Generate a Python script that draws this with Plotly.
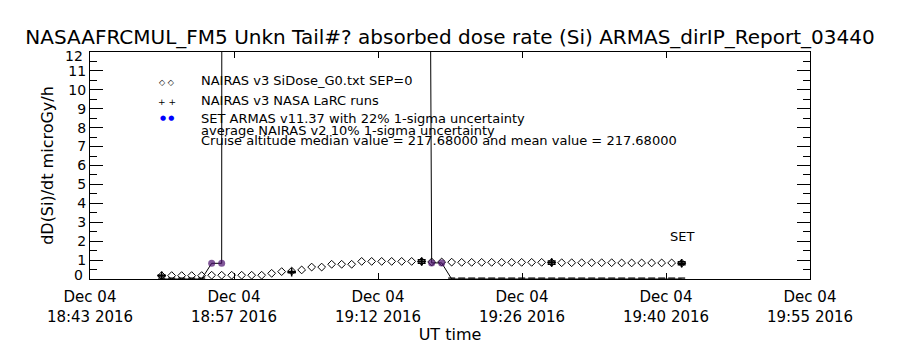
import pandas as pd
import plotly.graph_objects as go

# ---------------- data ----------------
sample_start = "2016-12-04 18:50:22"
n_samples = 53

# NAIRAS v3 SiDose_G0.txt SEP=0 (diamonds), one per minute
nairas_sidose = [0.18, 0.18, 0.18, 0.18, 0.18, 0.2, 0.2, 0.2, 0.2, 0.2,
                 0.2, 0.3, 0.39, 0.42, 0.48, 0.63, 0.63, 0.78, 0.78, 0.78,
                 0.93, 0.93, 0.93, 0.93, 0.93, 0.93, 0.93, 0.9, 0.9, 0.89,
                 0.88, 0.88, 0.88, 0.88, 0.88, 0.88, 0.88, 0.88, 0.88, 0.87,
                 0.86, 0.86, 0.86, 0.86, 0.86, 0.86, 0.85, 0.85, 0.85, 0.85,
                 0.85, 0.85, 0.84]

# NAIRAS v3 NASA LaRC runs (plus signs with 10% error bars), every 13 minutes
larc_index = [0, 13, 26, 39, 52]
larc_values = [0.18, 0.36, 0.92, 0.87, 0.83]

# SET ARMAS v11.37 dose rate (values above 12 are off scale)
armas_values = [0, 0, 0, 0, 0, 0.83, 0.83, 900, 650, 720,
                580, 610, 540, 700, 660, 590, 630, 570, 610, 640,
                520, 480, 450, 390, 300, 220, 110, 0.85, 0.85, 0,
                0, 0, 0, 0, 0, 0, 0, 0, 0, 0,
                0, 0, 0, 0, 0, 0, 0, 0, 0, 0,
                0, 0, 0]

x_range = ["2016-12-04 18:43:12", "2016-12-04 19:55:12"]
x_tick_times = ["2016-12-04 18:43:12", "2016-12-04 18:57:36", "2016-12-04 19:12:00",
                "2016-12-04 19:26:24", "2016-12-04 19:40:48", "2016-12-04 19:55:12"]
x_tick_labels = ["Dec 04<br>18:43 2016", "Dec 04<br>18:57 2016", "Dec 04<br>19:12 2016",
                 "Dec 04<br>19:26 2016", "Dec 04<br>19:40 2016", "Dec 04<br>19:55 2016"]
y_ticks = list(range(0, 13))
y_tick_labels = [str(v) for v in y_ticks]

legend_lines = ["NAIRAS v3 SiDose_G0.txt SEP=0",
                "NAIRAS v3 NASA LaRC runs",
                "SET ARMAS v11.37 with 22% 1-sigma uncertainty",
                "average NAIRAS v2 10% 1-sigma uncertainty",
                "Cruise altitude median value = 217.68000 and mean value = 217.68000"]
title_text = "NASAAFRCMUL_FM5 Unkn Tail#? absorbed dose rate (Si) ARMAS_dirIP_Report_03440"

# ---------------- build ----------------
times = pd.date_range(sample_start, periods=n_samples, freq="1min")
larc_times = [times[i] for i in larc_index]
larc_err = [0.1 * v for v in larc_values]

PURPLE = "#4b0f6e"
FONT = "DejaVu Sans"

armas_colors = [PURPLE if v > 0 else "black" for v in armas_values]
armas_symbols = ["circle" if v > 0 else "line-ew" for v in armas_values]
armas_sizes = [7 if v > 0 else 5 for v in armas_values]
armas_lw = [0 if v > 0 else 3.5 for v in armas_values]

fig = go.Figure()

fig.add_trace(go.Scatter(
    x=times, y=nairas_sidose, mode="markers",
    marker=dict(symbol="diamond-open", size=6, color="black", line=dict(width=1)),
    showlegend=False))

fig.add_trace(go.Scatter(
    x=larc_times, y=larc_values, mode="markers",
    marker=dict(symbol="cross-thin", size=6, color="black", line=dict(width=1.5, color="black")),
    error_y=dict(type="data", array=larc_err, visible=True, color="black", thickness=1.5, width=4),
    showlegend=False))

fig.add_trace(go.Scatter(
    x=times, y=armas_values, mode="lines+markers",
    line=dict(color="black", width=1),
    marker=dict(symbol=armas_symbols, size=armas_sizes, color=armas_colors,
                line=dict(width=armas_lw, color=armas_colors)),
    showlegend=False))

axis_common = dict(showline=True, linecolor="black", linewidth=1, mirror="allticks",
                   ticks="inside", tickcolor="black", showgrid=False, zeroline=False,
                   automargin=False)

fig.update_xaxes(
    type="date", range=x_range, tickvals=x_tick_times, ticktext=x_tick_labels,
    ticklen=6, tickwidth=1, ticklabelstandoff=4,
    minor=dict(ticks="inside", ticklen=3, tickcolor="black", tick0=x_range[0], dtick=86400000,
               showgrid=False),
    tickfont=dict(family=FONT, size=15, color="black"),
    title=dict(text="UT time", font=dict(family=FONT, size=16, color="black"), standoff=4),
    **axis_common)

# end labels (0 and 12) are drawn nudged inward, as in the original
y_tick_text = ["" if v in (y_ticks[0], y_ticks[-1]) else t for v, t in zip(y_ticks, y_tick_labels)]
fig.update_yaxes(
    range=[0, 12], tickvals=y_ticks, ticktext=y_tick_text, ticklen=13, tickwidth=1,
    minor=dict(ticks="inside", ticklen=7, tickcolor="black", dtick=0.5, showgrid=False),
    tickfont=dict(family=FONT, size=14, color="black"),
    title=dict(text="dD(Si)/dt microGy/h", font=dict(family=FONT, size=16, color="black"), standoff=10),
    **axis_common)

annotations = []
for v, t, dy in [(y_ticks[0], y_tick_labels[0], -4), (y_ticks[-1], y_tick_labels[-1], 3.5)]:
    annotations.append(dict(text=t, xref="paper", yref="y", x=-5 / 720, y=v, yshift=-dy,
                            xanchor="right", yanchor="middle", showarrow=False,
                            font=dict(family=FONT, size=14, color="black")))

# legend made of text annotations (IDL style)
legend_y_px = [80.5, 100, 118.5, 130.5, 140]
for txt, yp in zip(legend_lines, legend_y_px):
    annotations.append(dict(text=txt, xref="paper", yref="paper", x=(199 - 90) / 720,
                            y=(279 - yp) / 227, xanchor="left", yanchor="middle",
                            showarrow=False, font=dict(family=FONT, size=13, color="black")))
symbols = [("\u25c7 \u25c7", "black", 83, 8), ("+ +", "black", 102, 9), ("\u25cf \u25cf", "blue", 117.5, 7)]
for s, c, yp, fs in symbols:
    annotations.append(dict(text=s, xref="paper", yref="paper", x=(167 - 90) / 720,
                            y=(279 - yp) / 227, xanchor="center", yanchor="middle",
                            showarrow=False, font=dict(family=FONT, size=fs, color=c)))
annotations.append(dict(text="SET", xref="x", yref="paper", x=larc_times[-1],
                        y=(279 - 236.5) / 227, xanchor="center", yanchor="middle",
                        showarrow=False, font=dict(family=FONT, size=13, color="black")))

fig.update_layout(
    width=900, height=350,
    margin=dict(l=90, r=90, t=52, b=71),
    paper_bgcolor="white", plot_bgcolor="white",
    title=dict(text=title_text, x=0.5, xanchor="center", yref="container",
               y=1 - 36.5 / 350, yanchor="middle",
               font=dict(family=FONT, size=20, color="black")),
    annotations=annotations,
)

fig.write_html("out.html")
